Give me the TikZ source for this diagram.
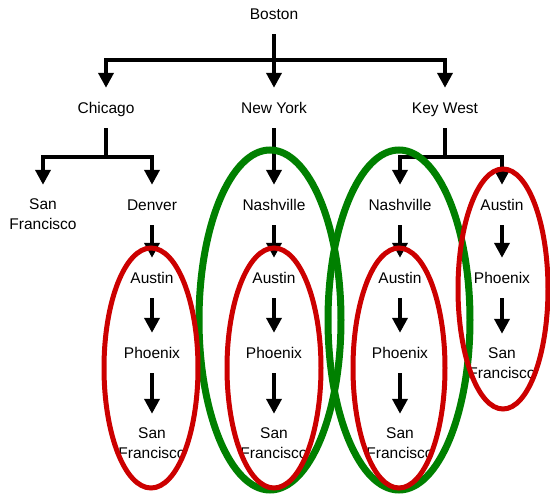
\documentclass[tikz,border=0pt]{standalone}
\usepackage{fontspec}
\setmainfont{Liberation Sans}
\usetikzlibrary{arrows.meta}
\definecolor{ringred}{HTML}{CC0000}
\definecolor{ringgreen}{HTML}{008000}
\begin{document}
\begin{tikzpicture}[x=1pt,y=-1pt,
  citybase/.style={inner sep=0pt,align=center,
    font=\fontsize{15.5}{19.5}\selectfont},
  city/.style={citybase,minimum height=40pt,text height=11pt,text depth=0pt},
  city2/.style={citybase,minimum height=58pt},
  link/.style={line width=4.5pt,-{Triangle[width=15pt,length=15pt]}},
  redring/.style={draw=ringred,line width=5pt},
  greenring/.style={draw=ringgreen,line width=7pt}]
\useasboundingbox (0,0) rectangle (550,495);

% city labels
\node[city] (boston) at (274,14) {Boston};
\node[city] (chicago) at (106,108) {Chicago};
\node[city] (newyork) at (274,108) {New York};
\node[city] (keywest) at (445,108) {Key West};

\node[city2] (sfa) at (43,214) {San\\Francisco};
\node[city] (denver) at (152,205) {Denver};
\node[city] (austina) at (152,278) {Austin};
\node[city] (phoenixa) at (152,353) {Phoenix};
\node[city2] (sfb) at (152,443) {San\\Francisco};

\node[city] (nashb) at (274,205) {Nashville};
\node[city] (austinb) at (274,278) {Austin};
\node[city] (phoenixb) at (274,353) {Phoenix};
\node[city2] (sfc) at (274,443) {San\\Francisco};

\node[city] (nashc) at (400,205) {Nashville};
\node[city] (austinc) at (400,278) {Austin};
\node[city] (phoenixc) at (400,353) {Phoenix};
\node[city2] (sfd) at (400,443) {San\\Francisco};

\node[city] (austind) at (502,205) {Austin};
\node[city] (phoenixd) at (502,278) {Phoenix};
\node[city2] (sfe) at (502,363) {San\\Francisco};

% branch junctions
\coordinate (bj) at (274,60);
\coordinate (cj) at (106,157);
\coordinate (kj) at (445,157);

% tree connectors
\draw[link] (boston.south) -- (bj) -| (chicago.north);
\draw[link] (bj) -| (keywest.north);
\draw[link] (boston.south) -- (newyork.north);

\draw[link] (chicago.south) -- (cj) -| (sfa.north);
\draw[link] (cj) -| (denver.north);
\draw[link] (newyork.south) -- (nashb.north);
\draw[link] (keywest.south) -- (kj) -| (nashc.north);
\draw[link] (kj) -| (austind.north);

% chains
\draw[link] (denver.south) -- (austina.north);
\draw[link] (austina.south) -- (phoenixa.north);
\draw[link] (phoenixa.south) -- (sfb.north);

\draw[link] (nashb.south) -- (austinb.north);
\draw[link] (austinb.south) -- (phoenixb.north);
\draw[link] (phoenixb.south) -- (sfc.north);

\draw[link] (nashc.south) -- (austinc.north);
\draw[link] (austinc.south) -- (phoenixc.north);
\draw[link] (phoenixc.south) -- (sfd.north);

\draw[link] (austind.south) -- (phoenixd.north);
\draw[link] (phoenixd.south) -- (sfe.north);

% groupings
\draw[greenring] (270,320) ellipse [x radius=71pt,y radius=170pt];
\draw[greenring] (399,320) ellipse [x radius=71pt,y radius=170pt];
\draw[redring] (151,368) ellipse [x radius=47pt,y radius=120pt];
\draw[redring] (274,368) ellipse [x radius=47pt,y radius=120pt];
\draw[redring] (399,368) ellipse [x radius=46pt,y radius=120pt];
\draw[redring] (503,289) ellipse [x radius=45pt,y radius=120pt];
\end{tikzpicture}
\end{document}
